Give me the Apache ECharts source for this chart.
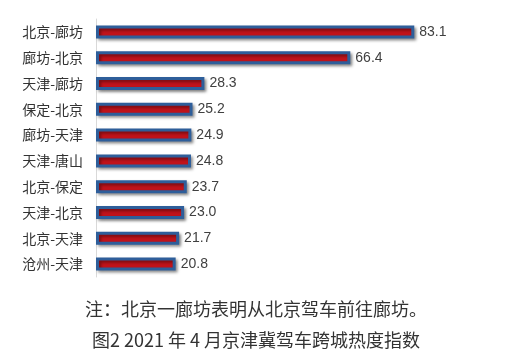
<!DOCTYPE html>
<html><head><meta charset="utf-8">
<script src="https://cdn.jsdelivr.net/npm/echarts@6/dist/echarts.min.js"></script>
<style>html,body{margin:0;padding:0;background:#fff}#c{width:509px;height:357px}</style>
</head><body><div id="c"></div>
<script>
const categories = ['北京-廊坊','廊坊-北京','天津-廊坊','保定-北京','廊坊-天津','天津-唐山','北京-保定','天津-北京','北京-天津','沧州-天津'];
const values = [83.1, 66.4, 28.3, 25.2, 24.9, 24.8, 23.7, 23.0, 21.7, 20.8];
const noteText = '注：北京一廊坊表明从北京驾车前往廊坊。';
const captionText = '图2 2021 年 4 月京津冀驾车跨城热度指数';

const chart = echarts.init(document.getElementById('c'), null, {renderer:'canvas'});
chart.setOption({
  animation: false,
  backgroundColor: '#fff',
  grid: {left: 96, top: 19, width: 383, height: 258, containLabel: false},
  xAxis: {type: 'value', min: 0, max: 100, show: false},
  yAxis: {
    type: 'category', data: categories, inverse: true,
    axisLine: {show: true, lineStyle: {color: '#d9d9d9', width: 1}},
    axisTick: {show: false},
    axisLabel: {color: '#333', fontSize: 14, margin: 13, fontFamily: 'Noto Sans CJK SC'}
  },
  series: [{
    type: 'bar', data: values, barWidth: 13,
    itemStyle: {
      color: '#c1131b', borderColor: '#2e5e9a', borderWidth: 3,
      shadowColor: 'rgba(0,0,0,0.4)', shadowBlur: 3, shadowOffsetX: 2, shadowOffsetY: 2
    },
    label: {
      show: true, position: 'right', distance: 5, color: '#404040', fontSize: 14,
      fontFamily: 'Liberation Sans', formatter: p => p.value.toFixed(1)
    }
  }],
  graphic: [
    {type: 'text', x: 256, y: 309, style: {text: noteText, fill: '#333', font: '18px "Noto Sans CJK SC"', align: 'center', verticalAlign: 'middle'}},
    {type: 'text', x: 256, y: 340, style: {text: captionText, fill: '#333', font: '18px "Noto Sans CJK SC"', align: 'center', verticalAlign: 'middle'}}
  ]
});
</script></body></html>
